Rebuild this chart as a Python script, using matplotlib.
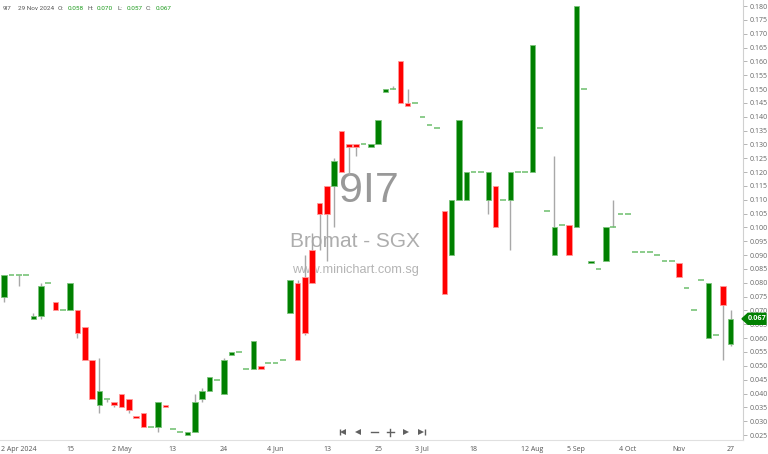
import matplotlib
matplotlib.use("Agg")
import matplotlib.pyplot as plt
from matplotlib.patches import Rectangle, Polygon
import numpy as np

# ---------------- data ----------------
opens = [0.075, 0.083, 0.083, 0.083, 0.067, 0.068, 0.080, 0.073, 0.070, 0.070,
         0.070, 0.064, 0.052, 0.036, 0.038, 0.037, 0.040, 0.038, 0.032, 0.033,
         0.028, 0.028, 0.036, 0.027, 0.026, 0.025, 0.026, 0.038, 0.041, 0.045,
         0.040, 0.054, 0.055, 0.049, 0.049, 0.050, 0.051, 0.051, 0.052, 0.069,
         0.080, 0.082, 0.092, 0.109, 0.115, 0.115, 0.135, 0.130, 0.130, 0.130,
         0.129, 0.130, 0.149, 0.150, 0.160, 0.145, 0.145, 0.140, 0.137, 0.136,
         0.106, 0.090, 0.110, 0.110, 0.120, 0.120, 0.110, 0.115, 0.110, 0.110,
         0.120, 0.120, 0.120, 0.136, 0.106, 0.090, 0.101, 0.101, 0.100, 0.150,
         0.087, 0.085, 0.088, 0.100, 0.105, 0.105, 0.091, 0.091, 0.091, 0.090,
         0.088, 0.088, 0.087, 0.078, 0.070, 0.081, 0.060, 0.061, 0.079, 0.058]
highs = [0.083, 0.083, 0.083, 0.083, 0.069, 0.080, 0.080, 0.073, 0.070, 0.080,
         0.070, 0.064, 0.052, 0.053, 0.038, 0.037, 0.040, 0.038, 0.032, 0.033,
         0.028, 0.037, 0.036, 0.027, 0.026, 0.026, 0.040, 0.042, 0.046, 0.045,
         0.053, 0.055, 0.055, 0.049, 0.059, 0.050, 0.051, 0.051, 0.052, 0.081,
         0.081, 0.090, 0.098, 0.109, 0.115, 0.125, 0.135, 0.130, 0.130, 0.130,
         0.130, 0.139, 0.150, 0.151, 0.160, 0.150, 0.145, 0.140, 0.137, 0.136,
         0.106, 0.110, 0.139, 0.120, 0.120, 0.120, 0.120, 0.115, 0.110, 0.120,
         0.120, 0.120, 0.166, 0.136, 0.106, 0.126, 0.101, 0.101, 0.180, 0.150,
         0.088, 0.085, 0.100, 0.110, 0.105, 0.105, 0.091, 0.091, 0.091, 0.090,
         0.088, 0.088, 0.087, 0.078, 0.070, 0.081, 0.080, 0.061, 0.079, 0.070]
lows = [0.073, 0.083, 0.079, 0.083, 0.067, 0.067, 0.080, 0.070, 0.070, 0.070,
        0.060, 0.052, 0.038, 0.033, 0.037, 0.035, 0.035, 0.033, 0.031, 0.028,
        0.028, 0.026, 0.035, 0.027, 0.026, 0.025, 0.026, 0.037, 0.041, 0.045,
        0.040, 0.054, 0.055, 0.049, 0.049, 0.049, 0.051, 0.051, 0.052, 0.069,
        0.052, 0.061, 0.080, 0.092, 0.088, 0.100, 0.120, 0.119, 0.126, 0.130,
        0.129, 0.130, 0.149, 0.150, 0.145, 0.144, 0.145, 0.140, 0.137, 0.136,
        0.076, 0.090, 0.110, 0.110, 0.120, 0.120, 0.105, 0.100, 0.110, 0.092,
        0.120, 0.120, 0.120, 0.136, 0.106, 0.090, 0.101, 0.090, 0.100, 0.150,
        0.087, 0.085, 0.088, 0.100, 0.105, 0.105, 0.091, 0.091, 0.091, 0.090,
        0.088, 0.088, 0.082, 0.078, 0.070, 0.081, 0.060, 0.061, 0.052, 0.057]
closes = [0.083, 0.083, 0.083, 0.083, 0.068, 0.079, 0.080, 0.070, 0.070, 0.080,
          0.062, 0.052, 0.038, 0.041, 0.038, 0.036, 0.035, 0.034, 0.031, 0.028,
          0.028, 0.037, 0.035, 0.027, 0.026, 0.026, 0.037, 0.041, 0.046, 0.045,
          0.052, 0.055, 0.055, 0.049, 0.059, 0.049, 0.051, 0.051, 0.052, 0.081,
          0.052, 0.062, 0.080, 0.105, 0.105, 0.124, 0.120, 0.129, 0.129, 0.130,
          0.130, 0.139, 0.150, 0.150, 0.145, 0.144, 0.145, 0.140, 0.137, 0.136,
          0.076, 0.110, 0.139, 0.120, 0.120, 0.120, 0.120, 0.100, 0.110, 0.120,
          0.120, 0.120, 0.166, 0.136, 0.106, 0.100, 0.101, 0.090, 0.180, 0.150,
          0.088, 0.085, 0.100, 0.100, 0.105, 0.105, 0.091, 0.091, 0.091, 0.090,
          0.088, 0.088, 0.082, 0.078, 0.070, 0.081, 0.080, 0.061, 0.072, 0.067]

xtick_idx = [2, 9, 16, 23, 30, 37, 44, 51, 57, 64, 72, 78, 85, 92, 99]
xtick_labels = ["2 Apr 2024", "15", "2 May", "13", "24", "4 Jun", "13", "25",
                "3 Jul", "18", "12 Aug", "5 Sep", "4 Oct", "Nov", "27"]
yticks = [round(0.025 + 0.005 * k, 3) for k in range(32)]

header_code = "9I7"
header_date = "29 Nov 2024"
last_price = closes[-1]

# ---------------- figure ----------------
W, H = 768, 454
fig = plt.figure(figsize=(W / 100, H / 100), dpi=100)
fig.patch.set_facecolor("white")

ax_right = 743
ax_bottom = 440
ax = fig.add_axes([0, (H - ax_bottom) / H, ax_right / W, ax_bottom / H])
ax.set_facecolor("white")

GREEN = "#008000"
RED = "#ff0000"
GREEN_EDGE = "#7cc47c"
RED_EDGE = "#ff9a9a"
WICK = "#a8a8a8"
bw = 0.76

for i, (o, h, l, c) in enumerate(zip(opens, highs, lows, closes)):
    if h > max(o, c) or l < min(o, c):
        ax.vlines(i, l, h, color=WICK, lw=1.0, zorder=2)
    if abs(c - o) < 1e-9:
        ax.hlines(o, i - bw / 2, i + bw / 2, color="#6cbf6c", lw=1.1, zorder=3)
    else:
        up = c > o
        rect = Rectangle((i - bw / 2, min(o, c)), bw, abs(c - o),
                         facecolor=GREEN if up else RED,
                         edgecolor=GREEN_EDGE if up else RED_EDGE,
                         lw=0.6, zorder=3)
        ax.add_patch(rect)

ax.set_xlim(-0.55, 100.7)
ax.set_ylim(0.0232, 0.1822)

ax.yaxis.tick_right()
ax.set_yticks(yticks)
ax.set_yticklabels([f"{v:.3f}" for v in yticks])
ax.tick_params(axis="y", length=3, width=0.6, color="#aaaaaa", labelsize=5,
               labelcolor="#666666", pad=1.5)
ax.set_xticks(xtick_idx)
ax.set_xticklabels(xtick_labels)
ax.tick_params(axis="x", length=0, labelsize=5, labelcolor="#555555", pad=4)
for lab in ax.get_xticklabels() + ax.get_yticklabels():
    lab.set_family(["Open Sans", "DejaVu Sans"])

for s in ["top", "left"]:
    ax.spines[s].set_visible(False)
ax.spines["right"].set_color("#d0d0d0")
ax.spines["right"].set_linewidth(0.8)
ax.spines["bottom"].set_color("#e0e0e0")
ax.spines["bottom"].set_linewidth(0.8)

# watermark
ax.text(0.497, 0.566, "9I7", transform=ax.transAxes, ha="center", va="center",
        fontsize=31, color="#8e8e8e", alpha=0.9, family="Liberation Sans", zorder=0)
ax.text(0.478, 0.452, "Bromat - SGX", transform=ax.transAxes, ha="center",
        va="center", fontsize=15, color="#a4a4a4", alpha=0.9,
        family="Liberation Sans", zorder=0)
ax.text(0.478, 0.386, "www.minichart.com.sg", transform=ax.transAxes,
        ha="center", va="center", fontsize=9.2, color="#acacac", alpha=0.9,
        family="Liberation Sans", zorder=0)

# overlay in pixel coordinates
ov = fig.add_axes([0, 0, 1, 1], zorder=5)
ov.set_xlim(0, W)
ov.set_ylim(H, 0)
ov.axis("off")
ov.patch.set_alpha(0)

fam = ["Roboto", "DejaVu Sans"]
fs = 4.6
ov.text(3, 9, header_code, fontsize=fs, color="#555555", va="center", family=fam)
ov.text(18, 9, header_date, fontsize=fs, color="#555555", va="center", family=fam)
items = [("O:", 58, opens[-1]), ("H:", 87, highs[-1]), ("L:", 117, lows[-1]),
         ("C:", 146, closes[-1])]
for lab, x0, v in items:
    ov.text(x0, 9, lab, fontsize=fs, color="#555555", va="center", family=fam)
    ov.text(x0 + 10, 9, f"{v:.3f}", fontsize=fs, color="#1a9a1a", va="center",
            family=fam)

# navigation icons
nav_y = 432
ic = "#606060"
ov.plot([339.5], [nav_y], marker="|", ms=5, color=ic, mew=1)
ov.plot([343], [nav_y], marker="<", ms=4, color=ic, mew=0)
ov.plot([358], [nav_y], marker="<", ms=4, color=ic, mew=0)
ov.plot([370.5, 377.5], [nav_y, nav_y], color=ic, lw=1)
ov.plot([386.5, 393.5], [nav_y, nav_y], color=ic, lw=1)
ov.plot([390, 390], [nav_y - 3.5, nav_y + 3.5], color=ic, lw=1)
ov.plot([406], [nav_y], marker=">", ms=4, color=ic, mew=0)
ov.plot([421], [nav_y], marker=">", ms=4, color=ic, mew=0)
ov.plot([424.5], [nav_y], marker="|", ms=5, color=ic, mew=1)

# last price tag
fig.canvas.draw()
ypx = H - ax.transData.transform((0, last_price))[1]
x0 = ax_right - 1
poly = Polygon([[x0, ypx], [x0 + 6, ypx - 5.5], [x0 + 24, ypx - 5.5],
                [x0 + 24, ypx + 5.5], [x0 + 6, ypx + 5.5]], closed=True,
               facecolor=GREEN, edgecolor=GREEN, zorder=6)
ov.add_patch(poly)
ov.text(x0 + 15, ypx, f"{last_price:.3f}", fontsize=5.2, color="white",
        ha="center", va="center", family=["Open Sans", "DejaVu Sans"],
        weight="bold", zorder=7)

fig.savefig("out.png", dpi=100, facecolor="white")
